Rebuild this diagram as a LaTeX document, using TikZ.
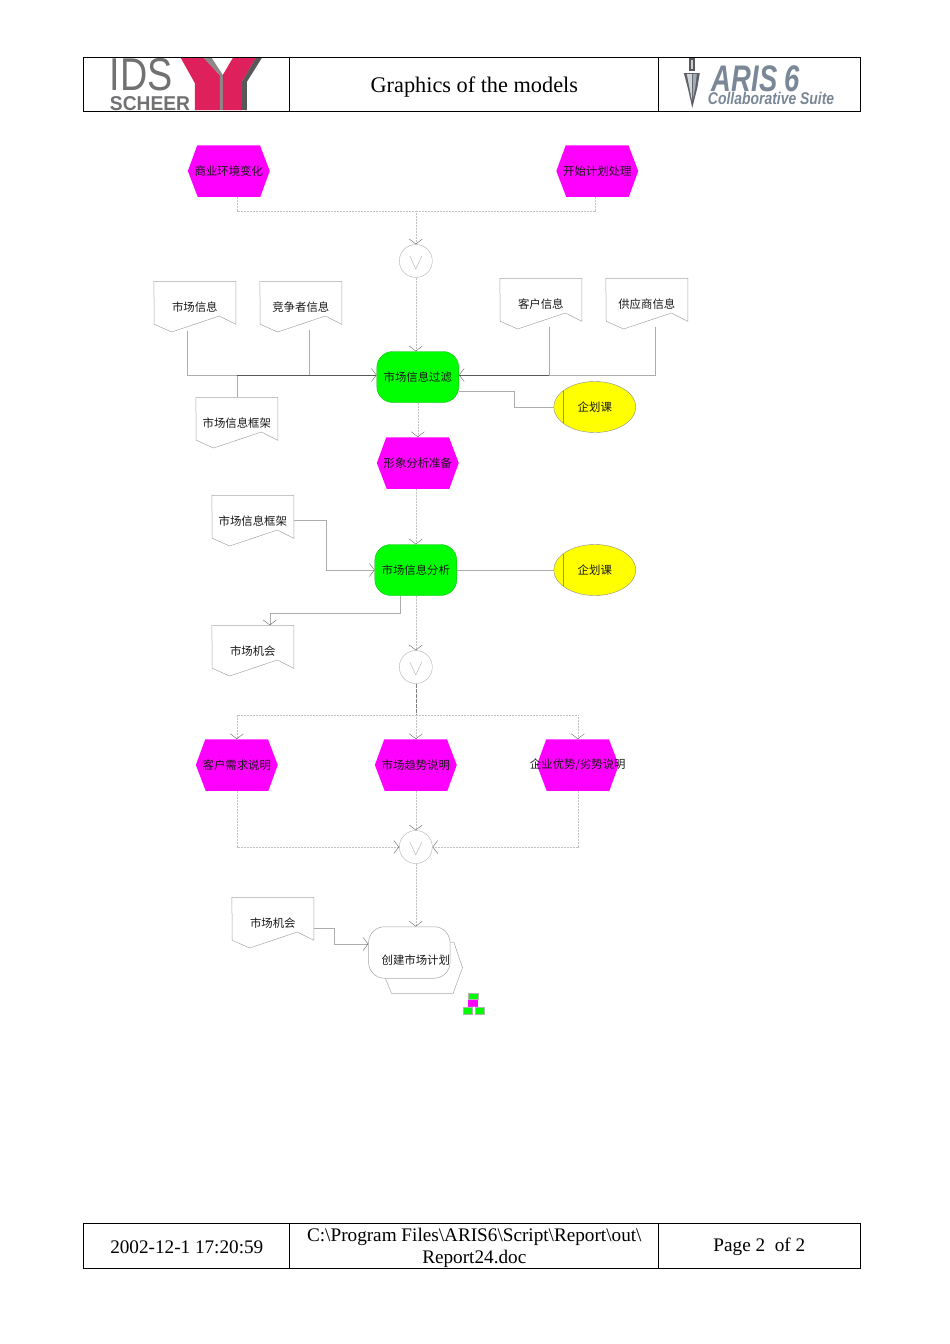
\documentclass[tikz,border=0pt]{standalone}
\usepackage{fontspec}
\setmainfont{Liberation Serif}
\newfontfamily\cjkfont{Noto Sans CJK SC}
\newfontfamily\logofont{Liberation Sans}
\usetikzlibrary{arrows.meta, shapes.geometric}

\definecolor{evtmagenta}{RGB}{255,0,255}
\definecolor{funcgreen}{RGB}{0,255,0}
\definecolor{orgyellow}{RGB}{255,255,0}
\definecolor{logopink}{RGB}{222,32,92}
\definecolor{logogray}{RGB}{88,88,90}
\definecolor{arisgray}{RGB}{122,135,150}

\tikzset{
	labeltext/.style={font=\cjkfont\fontsize{11.4}{13}\selectfont, inner sep=0pt, text=black!90},
	sheettext/.style={font=\fontsize{19.2}{22}\selectfont, inner sep=0pt, align=center},
	docbox/.style={minimum width=81.5pt, minimum height=51pt, inner sep=0pt},
	evtbox/.style={minimum width=81.5pt, minimum height=51.5pt, inner sep=0pt},
	funcbox/.style={draw=green!70!black, line width=0.3pt, fill=funcgreen, rounded corners=16pt, minimum width=82pt, minimum height=51pt, inner sep=0pt},
	orgbox/.style={ellipse, draw=black!45, line width=0.4pt, fill=orgyellow, minimum width=82pt, minimum height=51pt, inner sep=0pt},
	opbox/.style={circle, draw=black!30, line width=0.4pt, minimum size=33pt, inner sep=0pt},
	shapeline/.style={draw=black!35, line width=0.5pt},
	flowline/.style={draw=black!24, line width=0.4pt, dash pattern=on 1pt off 0.5pt},
	solidline/.style={draw=black!32, line width=0.5pt},
	darkline/.style={draw=black!65, line width=0.5pt},
	tip/.style={-{Straight Barb[length=5pt,width=13pt,color=black!60,line width=0.4pt]}}
}

\begin{document}
\begin{tikzpicture}[x=1pt, y=-1pt]
	\useasboundingbox (0.2,0) rectangle (950.2,1344);
	\fill[white] (0.2,0) rectangle (950.2,1344);

	% Header frame
	\draw[line width=0.9pt] (84,57) rectangle (860.5,111);
	\draw[line width=0.9pt] (290,57) -- (290,111);
	\draw[line width=0.9pt] (659,57) -- (659,111);
	\node[sheettext, font=\fontsize{22.3}{26}\selectfont] (headTitle) at (474.5,87) {Graphics of the models};

	% IDS logo
	\fill[logopink] (181,58) -- (204,58) -- (220,75) -- (220,110) -- (195,110) -- (195,83) -- cycle;
	\fill[logogray!70] (204,58) -- (212,58) -- (223,75) -- (223,110) -- (220,110) -- (220,75) -- cycle;
	\fill[logopink] (233,58) -- (256,58) -- (242,82) -- (242,110) -- (223,110) -- (223,75) -- cycle;
	\fill[logogray] (256,58) -- (262,58) -- (247,82) -- (247,110) -- (242,110) -- (242,82) -- cycle;
	\node[font=\logofont\fontsize{46}{46}\selectfont, text=logogray!85, inner sep=0pt, anchor=base west, xscale=0.82] (logoIds) at (110,90) {IDS};
	\node[font=\logofont\bfseries\fontsize{20}{20}\selectfont, text=logogray!85, inner sep=0pt, anchor=base west, xscale=0.96] (logoScheer) at (110,110) {SCHEER};

	% ARIS logo
	\fill[logogray] (689.5,58) rectangle (695.5,71);
	\fill[arisgray!40] (691,60) rectangle (693,69);
	\fill[logogray!80!arisgray] (684,73) -- (700,73) -- (697.5,88) -- (692.5,108) -- (688,88) -- cycle;
	\fill[arisgray!35] (687,74) -- (692,74) -- (692,100) -- (689.5,87) -- cycle;
	\fill[arisgray!70] (693,74) -- (697,74) -- (695.5,87) -- (693,100) -- cycle;
	\node[font=\logofont\bfseries\itshape\fontsize{37}{37}\selectfont, text=arisgray, inner sep=0pt, anchor=base west, xscale=0.74] (logoAris) at (712,91) {ARIS 6};
	\node[font=\logofont\bfseries\itshape\fontsize{17}{17}\selectfont, text=arisgray, inner sep=0pt, anchor=base west, xscale=0.82] (logoSuite) at (708,104) {Collaborative Suite};

	% Events
	\foreach \name/\x/\y in {evtChange/229/171, evtStart/597.5/171, evtPrepare/418/463, evtNeed/237/765, evtTrend/416/765, evtSwot/578/765} {
		\node[evtbox] (\name) at (\x,\y) {};
		\fill[evtmagenta] (\name.west) -- ++(9.4,-25.75) -- ++(62.7,0) -- (\name.east) -- ++(-9.4,25.75) -- ++(-62.7,0) -- cycle;
	}
	\node[labeltext] (txtChange) at (evtChange) {商业环境变化};
	\node[labeltext] (txtStart) at (evtStart) {开始计划处理};
	\node[labeltext] (txtPrepare) at (evtPrepare) {形象分析准备};
	\node[labeltext] (txtNeed) at (evtNeed) {客户需求说明};
	\node[labeltext] (txtTrend) at (evtTrend) {市场趋势说明};
	\node[labeltext] (txtSwot) at (evtSwot) {企业优势/劣势说明};

	% Documents
	\foreach \name/\x/\y/\txt in {docMarket/195/307/市场信息, docRival/301/307/竞争者信息, docClient/541/304/客户信息, docSupply/647/304/供应商信息, docFrameA/237/423/市场信息框架, docFrameB/253/521/市场信息框架, docChanceA/253/651/市场机会, docChanceB/273/923/市场机会} {
		\node[docbox] (\name) at (\x,\y) {};
		\draw[shapeline] (\name.north west) -- (\name.north east) -- ++(0,43) -- ++(-16.4,-8.3) -- ++(-47.7,16) -- ++(-17.4,-7.7) -- cycle;
		\node[labeltext] at (\x,\y) {\txt};
	}

	% Functions
	\node[funcbox] (fnFilter) at (418,377) {};
	\node[labeltext] (txtFilter) at (fnFilter) {市场信息过滤};
	\node[funcbox] (fnAnalyse) at (416,570) {};
	\node[labeltext] (txtAnalyse) at (fnAnalyse) {市场信息分析};

	% Organisation units
	\foreach \name/\x/\y in {orgA/595/407, orgB/595/570} {
		\node[orgbox] (\name) at (\x,\y) {};
		\draw[draw=black!45, line width=0.4pt] (\x-32,\y-16) -- (\x-32,\y+16);
		\node[labeltext] at (\x,\y) {企划课};
	}

	% Operators
	\foreach \name/\x/\y in {opTop/416/261, opMid/416/667, opLow/416/847} {
		\node[opbox] (\name) at (\x,\y) {};
		\draw[draw=black!30, line width=0.4pt] (\x-6,\y-5) -- (\x,\y+8) -- (\x+6,\y-5);
	}

	% Process interface
	\draw[shapeline, fill=white] (450,942) -- (454,942) -- (462.7,967.7) -- (453.3,993.3) -- (391.7,993.3) -- (385,977);
	\node[draw=black!35, line width=0.5pt, fill=white, rounded corners=16pt, minimum width=81.5pt, minimum height=51.5pt, inner sep=0pt] (ifPlan) at (409.5,952.5) {};
	\node[labeltext] (txtPlan) at (416,960) {创建市场计划};

	% Hierarchy mark
	\node[draw=black!30, fill=funcgreen, line width=0.3pt, minimum width=10pt, minimum height=6pt, inner sep=0pt] (hierTop) at (473.2,996) {};
	\node[fill=evtmagenta, minimum width=10pt, minimum height=7pt, inner sep=0pt] (hierMid) at (473.2,1003) {};
	\node[draw=black!30, fill=funcgreen, line width=0.3pt, minimum width=9pt, minimum height=6.5pt, inner sep=0pt] (hierLeft) at (467.5,1010.5) {};
	\node[draw=black!30, fill=funcgreen, line width=0.3pt, minimum width=9pt, minimum height=6.5pt, inner sep=0pt] (hierRight) at (479.5,1010.5) {};

	% Junctions
	\coordinate (joinTop) at (416,211);
	\coordinate (joinLeft) at (237,375);
	\coordinate (joinRight) at (549.5,375);
	\coordinate (joinBranch) at (416,715);

	% Flow at the top
	\draw[flowline] ([xshift=8pt]evtChange.south) |- (joinTop);
	\draw[flowline] ([xshift=-2.5pt]evtStart.south) |- (joinTop);
	\draw[flowline, tip] (joinTop) -- (opTop.north);
	\draw[flowline, tip] (opTop.south) -- (fnFilter.north -| opTop.south);

	% Inputs of the filter
	\draw[solidline] ([xshift=-7.5pt,yshift=2pt]docMarket.south) |- (joinLeft);
	\draw[solidline] ([xshift=8.5pt,yshift=3pt]docRival.south) -- ++(0,46);
	\draw[solidline] (docFrameA.north) -- (joinLeft);
	\draw[darkline, tip] (joinLeft) -- ([yshift=2pt]fnFilter.west);
	\draw[solidline] ([xshift=8.5pt,yshift=3pt]docClient.south) -- (joinRight);
	\draw[solidline] ([xshift=8.5pt,yshift=3pt]docSupply.south) |- (joinRight);
	\draw[darkline, tip] (joinRight) -- ([yshift=2pt]fnFilter.east);
	\draw[solidline] ([yshift=-14pt]fnFilter.east) -- ++(55,0) |- (orgA.west);
	\draw[flowline, tip] (fnFilter.south) -- (evtPrepare.north);

	% Around the analysis
	\draw[flowline, tip] (evtPrepare.south -| fnAnalyse.north) -- (fnAnalyse.north);
	\draw[solidline, tip] ([yshift=0.5pt]docFrameB.east) -- ++(32,0) |- (fnAnalyse.west);
	\draw[solidline] (fnAnalyse.east) -- (orgB.west);
	\draw[solidline, tip] ([xshift=-16pt]fnAnalyse.south) -- ++(0,18) -| ([xshift=17pt]docChanceA.north);
	\draw[flowline, tip] (fnAnalyse.south) -- (opMid.north);

	% Branching events
	\draw[draw=black!50, line width=0.5pt, dash pattern=on 2pt off 0.5pt] (opMid.south) -- (joinBranch);
	\draw[flowline, tip] (joinBranch) -- (evtTrend.north);
	\draw[flowline, tip] (joinBranch) -| (evtNeed.north);
	\draw[flowline, tip] (joinBranch) -| (evtSwot.north);

	% Joining events
	\draw[flowline, tip] (evtTrend.south) -- (opLow.north);
	\draw[flowline, tip] (evtNeed.south) |- (opLow.west);
	\draw[flowline, tip] (evtSwot.south) |- (opLow.east);
	\draw[flowline, tip] (opLow.south) -- (ifPlan.north -| opLow.south);
	\draw[solidline, tip] ([yshift=-5pt]docChanceB.east) -- ++(20,0) |- ([yshift=8.5pt]ifPlan.west);

	% Hierarchy mark lines
	\draw[draw=black!30, line width=0.3pt] (hierMid.south) -- (hierLeft.north);
	\draw[draw=black!30, line width=0.3pt] (hierMid.south) -- (hierRight.north);

	% Footer frame
	\draw[line width=0.9pt] (84,1223) rectangle (860.5,1268);
	\draw[line width=0.9pt] (290,1223) -- (290,1268);
	\draw[line width=0.9pt] (659,1223) -- (659,1268);
	\node[sheettext] (footDate) at (187,1247) {2002-12-1 17:20:59};
	\node[sheettext] (footPath) at (474.5,1247.5) {C:\textbackslash Program Files\textbackslash ARIS6\textbackslash Script\textbackslash Report\textbackslash out\textbackslash\\Report24.doc};
	\node[sheettext] (footPage) at (759.5,1247) {Page 2\ \ of 2};
\end{tikzpicture}
\end{document}
